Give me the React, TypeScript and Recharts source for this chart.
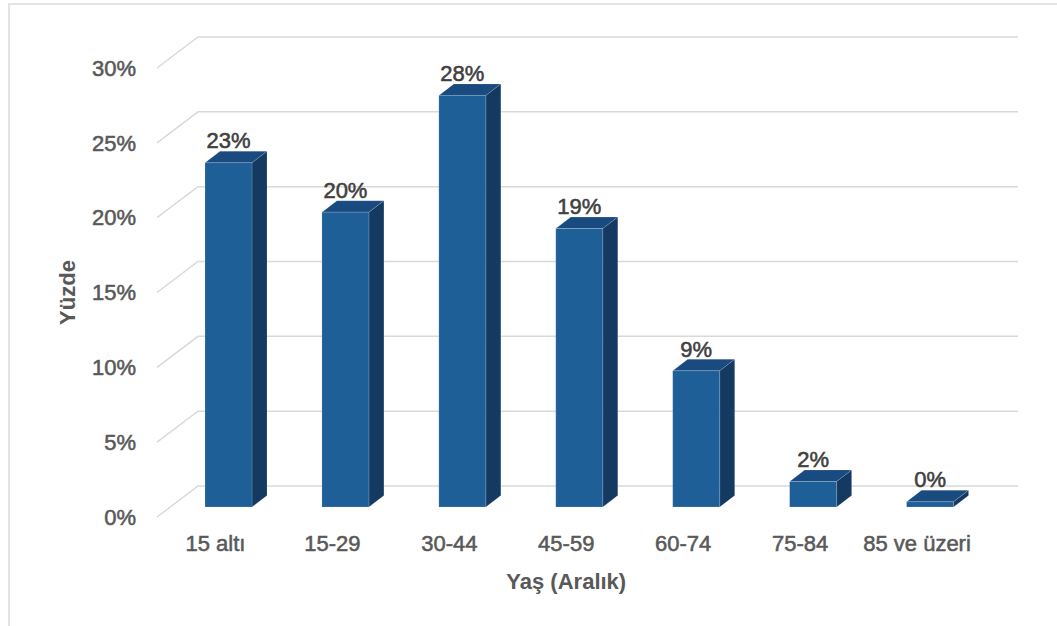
// Age distribution -- 3D-looking bars drawn with recharts custom shapes.

import { Bar, BarChart, CartesianGrid, Label, LabelList, XAxis, YAxis } from "recharts";

const categories = ["15 altı", "15-29", "30-44", "45-59", "60-74", "75-84", "85 ve üzeri"];
const percentages = [23.0, 19.7, 27.5, 18.6, 9.1, 1.7, 0.35];
const yTicks = [0, 5, 10, 15, 20, 25, 30];

const data = categories.map((name, i) => ({ name, value: percentages[i] }));

const FONT = "'Liberation Sans', Arial, Helvetica, sans-serif";
const FRONT = "#1f5f97";
const TOP = "#1a4b80";
const SIDE = "#153a62";
const GRID = "#d9d9d9";

// bar depth offset
const DX = 15;
const DY = -11.5;

function Bar3D(props: any) {
	const { x, y, width, height } = props;
	if (width == null || height == null) return null;
	const r = x + width;
	const b = y + height;
	const edge = "rgba(255,255,255,0.18)";
	return (
		<g>
			<path d={`M${x},${y} L${x + DX},${y + DY} L${r + DX},${y + DY} L${r},${y} Z`} fill={TOP} stroke={edge} strokeWidth={0.8} />
			<path d={`M${r},${y} L${r + DX},${y + DY} L${r + DX},${b + DY} L${r},${b} Z`} fill={SIDE} stroke={edge} strokeWidth={0.8} />
			<rect x={x} y={y} width={width} height={height} fill={FRONT} stroke={edge} strokeWidth={0.8} />
		</g>
	);
}

function gridLine(p: any) {
	const { x1, x2, y1, index } = p;
	return (
		<polyline
			key={`g-${index}`}
			points={`${x1 - 13},${y1 + 10} ${x1 + 28},${y1 - 21} ${x2 + 29.5},${y1 - 21}`}
			fill="none"
			stroke={GRID}
			strokeWidth={1.5}
		/>
	);
}

// a thin stroke of the fill colour gives the medium weight of the original
const tickText = { fontFamily: FONT, fontSize: 22, fill: "#595959", stroke: "#595959", strokeWidth: 0.55 };

function YTick(props: any) {
	const { x, y, payload } = props;
	return (
		<text x={x - 34} y={y + 10} dy="0.35em" textAnchor="end" {...tickText}>
			{`${payload.value}%`}
		</text>
	);
}

function XTick(props: any) {
	const { x, y, payload } = props;
	return (
		<text x={x - 13} y={y + 36} dy="0.35em" textAnchor="middle" {...tickText}>
			{payload.value}
		</text>
	);
}

function ValueLabel(props: any) {
	const { x, y, width, value } = props;
	return (
		<text x={x + width / 2} y={y - 22} dy="0.35em" textAnchor="middle" fontFamily={FONT} fontSize={22} fill="#404040" stroke="#404040" strokeWidth={0.55}>
			{`${Math.round(value)}%`}
		</text>
	);
}

function YTitle(p: any) {
	const vb = p.viewBox ?? { x: 0, y: 58, width: 170, height: 449 };
	const cx = vb.x + 67;
	const cy = vb.y + vb.height / 2 + 10;
	return (
		<text x={cx} y={cy} dy="0.35em" transform={`rotate(-90, ${cx}, ${cy})`} textAnchor="middle" fontFamily={FONT} fontSize={22} fontWeight="bold" fill="#595959">
			Yüzde
		</text>
	);
}

function XTitle(p: any) {
	const vb = p.viewBox ?? { x: 170, y: 507, width: 818.5, height: 119 };
	return (
		<text x={vb.x + vb.width / 2 - 13} y={vb.y + 74} dy="0.35em" textAnchor="middle" fontFamily={FONT} fontSize={22} fontWeight="bold" fill="#595959">
			Yaş (Aralık)
		</text>
	);
}

export default function App() {
	return (
		<div style={{ position: "absolute", left: 0, top: 0, width: 1057, height: 626, overflow: "hidden", background: "#fff" }}>
			<div style={{ position: "absolute", left: 8, top: 3, width: 1200, height: 800, borderLeft: "2px solid #e4e4e4", borderTop: "2px solid #e4e4e4" }} />
			<div style={{ position: "absolute", left: 0, top: 0 }}>
				<BarChart width={1057} height={626} data={data} margin={{ top: 58, right: 68.5, bottom: 0, left: 0 }} barSize={47}>
					<CartesianGrid vertical={false} horizontal={gridLine} />
					<YAxis
						width={170}
						domain={[0, 30]}
						ticks={yTicks}
						allowDataOverflow
						axisLine={false}
						tickLine={false}
						tickSize={0}
						tickMargin={0}
						tick={<YTick />}
					>
						<Label content={YTitle} />
					</YAxis>
					<XAxis
						dataKey="name"
						height={119}
						interval={0}
						axisLine={false}
						tickLine={false}
						tickSize={0}
						tickMargin={0}
						tick={<XTick />}
					>
						<Label content={XTitle} />
					</XAxis>
					<Bar dataKey="value" shape={<Bar3D />} isAnimationActive={false}>
						<LabelList dataKey="value" content={ValueLabel} />
					</Bar>
				</BarChart>
			</div>
		</div>
	);
}
